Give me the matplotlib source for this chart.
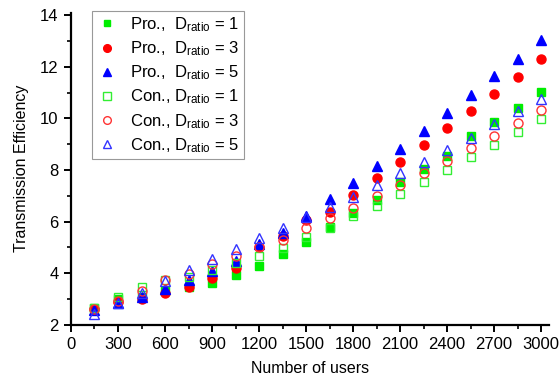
import numpy as np
import matplotlib
matplotlib.use("Agg")
import matplotlib.pyplot as plt
from matplotlib.ticker import MultipleLocator

plt.rcParams['font.family'] = ['Liberation Sans', 'DejaVu Sans']
plt.rcParams['mathtext.default'] = 'regular'

# Data
users = [150, 300, 450, 600, 750, 900, 1050, 1200, 1350, 1500,
         1650, 1800, 1950, 2100, 2250, 2400, 2550, 2700, 2850, 3000]

pro_d1 = [2.65, 3.00, 3.08, 3.32, 3.45, 3.62, 3.92, 4.29, 4.75, 5.22,
          5.78, 6.35, 6.83, 7.55, 8.05, 8.56, 9.30, 9.87, 10.42, 11.02]
pro_d3 = [2.62, 2.90, 3.02, 3.24, 3.48, 3.82, 4.21, 5.00, 5.45, 6.05,
          6.38, 7.03, 7.69, 8.31, 8.97, 9.61, 10.27, 10.96, 11.62, 12.30]
pro_d5 = [2.58, 2.85, 3.09, 3.41, 3.75, 4.09, 4.47, 5.14, 5.57, 6.20,
          6.87, 7.50, 8.16, 8.82, 9.51, 10.19, 10.90, 11.63, 12.30, 13.02]
con_d1 = [2.67, 3.07, 3.45, 3.75, 3.85, 4.14, 4.39, 4.67, 4.98, 5.39,
          5.75, 6.20, 6.62, 7.08, 7.54, 8.00, 8.49, 8.97, 9.49, 9.97]
con_d3 = [2.60, 2.92, 3.32, 3.73, 3.97, 4.34, 4.65, 5.00, 5.29, 5.76,
          6.13, 6.54, 6.99, 7.42, 7.89, 8.33, 8.84, 9.32, 9.84, 10.32]
con_d5 = [2.42, 2.84, 3.24, 3.70, 4.11, 4.56, 4.94, 5.35, 5.74, 6.18,
          6.57, 6.95, 7.42, 7.87, 8.30, 8.78, 9.25, 9.78, 10.28, 10.74]

fig = plt.figure(figsize=(5.59, 3.80), dpi=100)
ax = fig.add_axes([0.127, 0.145, 0.855, 0.822])

ax.plot(users, pro_d1, ls='none', marker='s', ms=5.5, color='#00ee00', mec='#00ee00',
        label='Pro.,  D$_{ratio}$ = 1')
ax.plot(users, pro_d3, ls='none', marker='o', ms=6.5, color='#ff0000', mec='#ff0000',
        label='Pro.,  D$_{ratio}$ = 3')
ax.plot(users, pro_d5, ls='none', marker='^', ms=7, color='#0000ff', mec='#0000ff',
        label='Pro.,  D$_{ratio}$ = 5')
ax.plot(users, con_d1, ls='none', marker='s', ms=6, mfc='none', mec='#33ee33', mew=1.0,
        label='Con., D$_{ratio}$ = 1')
ax.plot(users, con_d3, ls='none', marker='o', ms=6.5, mfc='none', mec='#ff3333', mew=1.0,
        label='Con., D$_{ratio}$ = 3')
ax.plot(users, con_d5, ls='none', marker='^', ms=7.5, mfc='none', mec='#3333ff', mew=1.0,
        label='Con., D$_{ratio}$ = 5')

ax.set_xlim(0, 3050)
ax.set_ylim(2, 14.1)
ax.xaxis.set_major_locator(MultipleLocator(300))
ax.xaxis.set_minor_locator(MultipleLocator(150))
ax.yaxis.set_major_locator(MultipleLocator(2))
ax.yaxis.set_minor_locator(MultipleLocator(1))

for s in ['top', 'right']:
    ax.spines[s].set_visible(False)
for s in ['left', 'bottom']:
    ax.spines[s].set_linewidth(1.6)
ax.tick_params(which='major', direction='out', length=5, width=1.4, labelsize=12)
ax.tick_params(which='minor', direction='out', length=3, width=1.2)
ax.tick_params(axis='y', pad=4)

ax.set_xlabel('Number of users', fontsize=11.5, labelpad=7)
ax.set_ylabel('Transmission Efficiency', fontsize=11.5, labelpad=8)

leg = ax.legend(loc='upper left', bbox_to_anchor=(0.044, 1.005), borderaxespad=0,
                fontsize=12, fancybox=False, edgecolor='#999999', framealpha=1,
                handletextpad=0.75, labelspacing=0.33, borderpad=0.25,
                handlelength=1.3, markerscale=0.85)
leg.get_frame().set_linewidth(0.8)

fig.savefig('out.png', dpi=100)
